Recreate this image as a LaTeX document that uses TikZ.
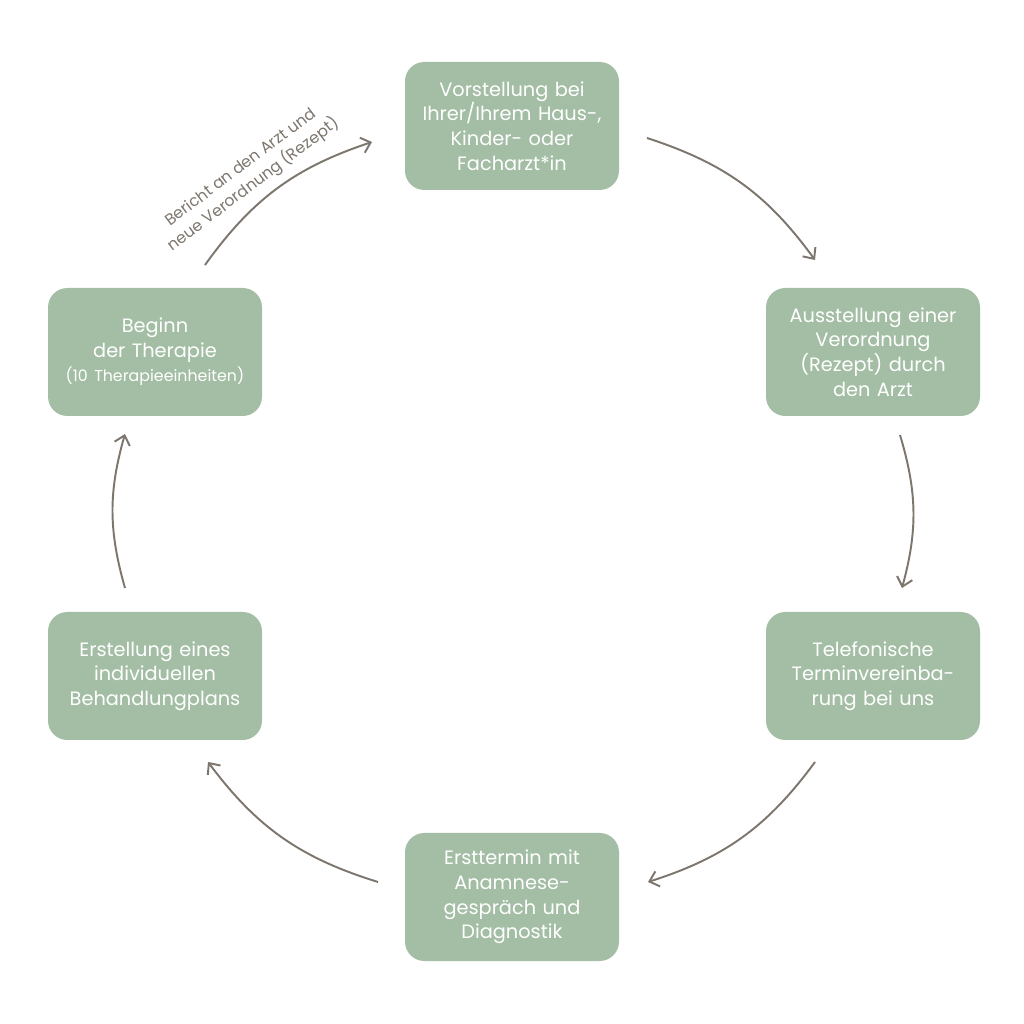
\documentclass[tikz,border=0pt]{standalone}
\usepackage{fontspec}
\setmainfont{Poppins}
\usetikzlibrary{arrows.meta}
\definecolor{boxgreen}{HTML}{A3BEA5}
\definecolor{arrowgrey}{HTML}{7D766E}
\begin{document}
\begin{tikzpicture}[
    stage/.style={fill=boxgreen, rounded corners=11pt, minimum width=4.28cm,
        minimum height=2.56cm, text width=3.9cm, align=center, text=white,
        font=\fontsize{11}{14}\selectfont},
    flow/.style={arrowgrey, line width=1.1pt, -{Straight Barb[length=5pt,width=9pt]}}
]
    % frame
    \useasboundingbox[fill=white] (0,0) rectangle (20.48,20.48);

    % the six steps
    \node[stage] (visit) at (10.24,17.96) {Vorstellung bei\\Ihrer/Ihrem Haus-,\\Kinder- oder\\Facharzt*in};
    \node[stage] (rx) at (17.46,13.44) {Ausstellung einer\\Verordnung\\(Rezept) durch\\den Arzt};
    \node[stage] (call) at (17.46,6.96) {Telefonische\\Terminvereinba-\\rung bei uns};
    \node[stage] (first) at (10.24,2.54) {Ersttermin mit\\Anamnese-\\gespräch und\\Diagnostik};
    \node[stage] (plan) at (3.10,6.96) {Erstellung eines\\individuellen\\Behandlungplans};
    \node[stage] (start) at (3.10,13.44) {Beginn\\der Therapie\\{\fontsize{9}{14}\selectfont(10 Therapieeinheiten)}};

    % arrow ends
    \coordinate (a1s) at (12.94,17.72); \coordinate (a1e) at (16.30,15.28);
    \coordinate (a2s) at (18.00,11.78); \coordinate (a2e) at (18.04,8.72);
    \coordinate (a3s) at (16.30,5.24);  \coordinate (a3e) at (12.96,2.84);
    \coordinate (a4s) at (7.56,2.84);   \coordinate (a4e) at (4.16,5.24);
    \coordinate (a5s) at (2.50,8.72);   \coordinate (a5e) at (2.50,11.80);
    \coordinate (a6s) at (4.10,15.18);  \coordinate (a6e) at (7.44,17.64);

    % cycle
    \draw[flow] (a1s) to[bend left=18] (a1e);
    \draw[flow] (a2s) to[bend left=16] (a2e);
    \draw[flow] (a3s) to[bend left=18] (a3e);
    \draw[flow] (a4s) to[bend left=18] (a4e);
    \draw[flow] (a5s) to[bend left=16] (a5e);
    \draw[flow] (a6s) to[bend left=18] (a6e);

    % report label
    \node[arrowgrey, rotate=37, align=center, inner sep=0pt,
        font=\fontsize{9}{12}\selectfont] (report) at (4.95,16.95)
        {Bericht an den Arzt und\\neue Verordnung (Rezept)};
\end{tikzpicture}
\end{document}
